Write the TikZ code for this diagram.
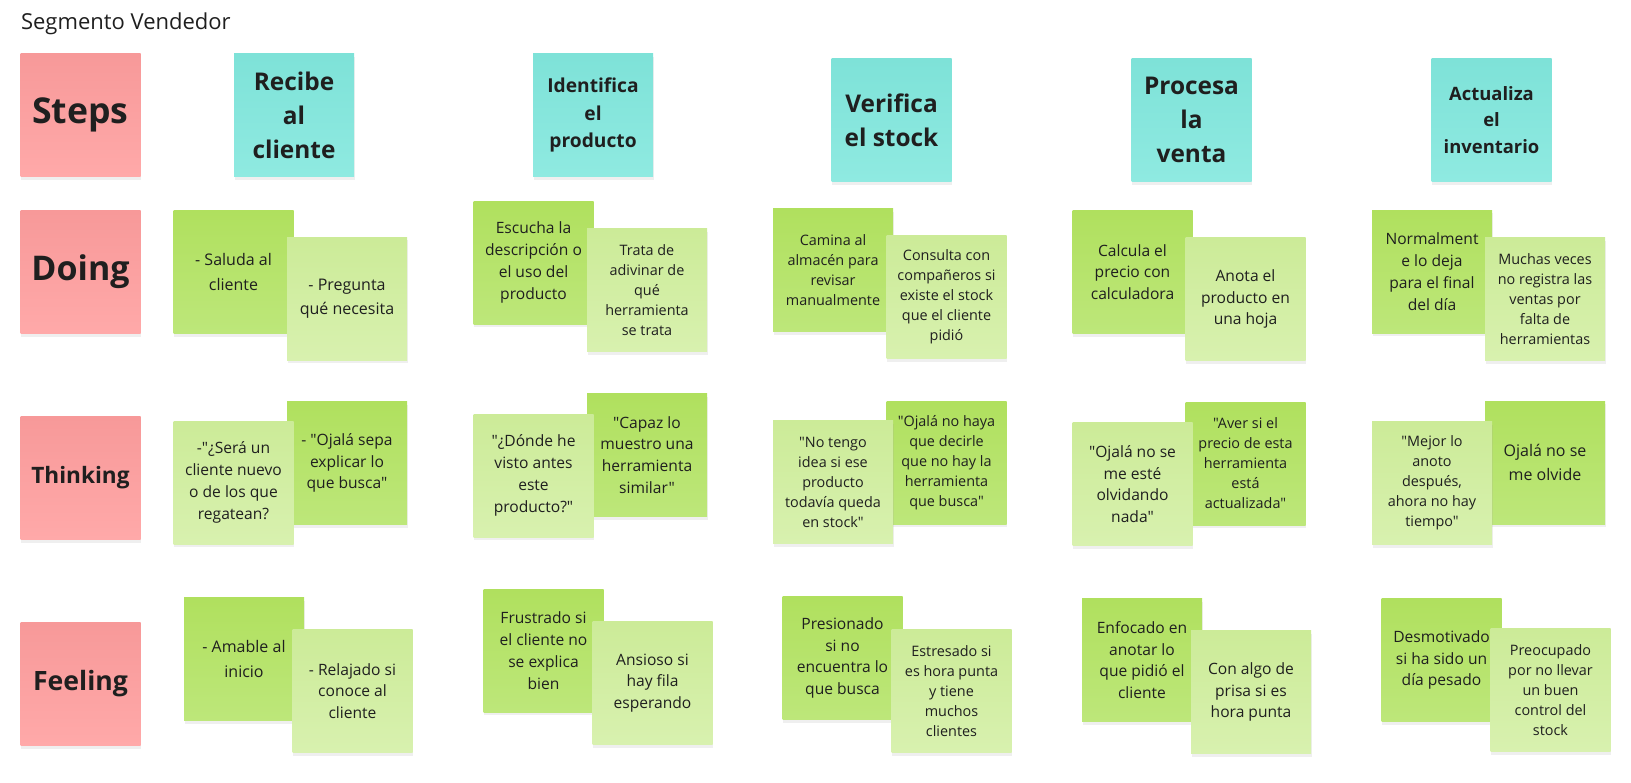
\documentclass[tikz,border=0pt]{standalone}
\usepackage{fontspec}
\setmainfont{Open Sans}[Ligatures=TeXOff]
\usepackage{tikz}
\usetikzlibrary{shadows}
\definecolor{pinkA}{HTML}{F79999}
\definecolor{pinkB}{HTML}{FFA9A9}
\definecolor{tealA}{HTML}{7EE2D8}
\definecolor{tealB}{HTML}{8FEAE1}
\definecolor{darkA}{HTML}{B0E05E}
\definecolor{darkB}{HTML}{BDE77A}
\definecolor{liteA}{HTML}{CCEB98}
\definecolor{liteB}{HTML}{D8F1AF}
\tikzstyle{ndnote} = [shape=rectangle, minimum width=60pt, minimum height=61.5pt, inner sep=1pt, align=center, text=black!88, drop shadow={shadow xshift=0.3pt, shadow yshift=-1.6pt, opacity=0.13}]
\tikzstyle{ndrow} = [ndnote, top color=pinkA, bottom color=pinkB]
\tikzstyle{ndstep} = [ndnote, top color=tealA, bottom color=tealB]
\tikzstyle{nddark} = [ndnote, top color=darkA, bottom color=darkB]
\tikzstyle{ndlite} = [ndnote, top color=liteA, bottom color=liteB]
\tikzstyle{hdl} = [font=\bfseries\fontsize{12.2}{17}\selectfont]
\tikzstyle{hds} = [font=\bfseries\fontsize{9.6}{13.6}\selectfont]
\tikzstyle{txs} = [font=\fontsize{7.2}{10}\selectfont]
\tikzstyle{txm} = [font=\fontsize{7.8}{10.9}\selectfont]
\tikzstyle{txl} = [font=\fontsize{8}{12.2}\selectfont]

\begin{document}
\begin{tikzpicture}[x=0.5pt, y=-0.5pt]
	\useasboundingbox (0,0) rectangle (1631,782);
	\node[anchor=base west, text=black!88, font=\fontsize{11}{13}\selectfont] (ttl) at (14,29) {Segmento Vendedor};
	\node[ndrow, font=\bfseries\fontsize{17.8}{20}\selectfont] (r1) at (80.5,115) {Steps};
	\node[ndrow, font=\bfseries\fontsize{17}{20}\selectfont] (r2) at (80.5,272) {Doing};
	\node[ndrow, font=\bfseries\fontsize{11.3}{14}\selectfont] (r3) at (80.5,478) {Thinking};
	\node[ndrow, font=\bfseries\fontsize{13.3}{16}\selectfont] (r4) at (80.5,684) {Feeling};
	\node[ndstep, hdl] (h1) at (294,115) {Recibe\\al\\cliente};
	\node[ndstep, hds] (h2) at (593,115) {Identifica\\el\\producto};
	\node[ndstep, hdl] (h3) at (891.5,120) {Verifica\\el stock};
	\node[ndstep, hdl] (h4) at (1191.5,120) {Procesa\\la\\venta};
	\node[ndstep, font=\bfseries\fontsize{9.2}{13.3}\selectfont] (h5) at (1491.5,120) {Actualiza\\el\\inventario};
	\node[nddark, txl] (d1) at (233.5,272) {- Saluda al\\cliente};
	\node[ndlite, txl] (d2) at (347,298.5) {- Pregunta\\qué necesita};
	\node[nddark, txm] (d3) at (533.5,262.5) {Escucha la\\descripción o\\el uso del\\producto};
	\node[ndlite, txs] (d4) at (647,290) {Trata de\\adivinar de\\qué\\herramienta\\se trata};
	\node[nddark, txs] (d5) at (833,270) {Camina al\\almacén para\\revisar\\manualmente};
	\node[ndlite, txs] (d6) at (946.5,297) {Consulta con\\compañeros si\\existe el stock\\que el cliente\\pidió};
	\node[nddark, txm] (d7) at (1132.5,272) {Calcula el\\precio con\\calculadora};
	\node[ndlite, txm] (d8) at (1245.5,299) {Anota el\\producto en\\una hoja};
	\node[nddark, txm] (d9) at (1432,271.5) {Normalment\\e lo deja\\para el final\\del día};
	\node[ndlite, txs] (d10) at (1545,299) {Muchas veces\\no registra las\\ventas por\\falta de\\herramientas};
	\node[nddark, txm] (t2) at (347,463) {- "Ojalá sepa\\explicar lo\\que busca"};
	\node[ndlite, txm] (t1) at (233.5,482.5) {-"¿Será un\\cliente nuevo\\o de los que\\regatean?};
	\node[nddark, txm] (t4) at (647,455) {"Capaz lo\\muestro una\\herramienta\\similar"};
	\node[ndlite, txm] (t3) at (533.5,475.5) {"¿Dónde he\\visto antes\\este\\producto?"};
	\node[nddark, txs] (t6) at (946.5,462.5) {"Ojalá no haya\\que decirle\\que no hay la\\herramienta\\que busca"};
	\node[ndlite, txs] (t5) at (833,482) {"No tengo\\idea si ese\\producto\\todavía queda\\en stock"};
	\node[nddark, txs] (t8) at (1245.5,463.5) {"Aver si el\\precio de esta\\herramienta\\está\\actualizada"};
	\node[ndlite, txm] (t7) at (1132.5,484) {"Ojalá no se\\me esté\\olvidando\\nada"};
	\node[nddark, txl] (t10) at (1545,462.5) {Ojalá no se\\me olvide};
	\node[ndlite, txs] (t9) at (1432,483) {"Mejor lo\\anoto\\después,\\ahora no hay\\tiempo"};
	\node[nddark, txl] (f1) at (244,659) {- Amable al\\inicio};
	\node[ndlite, txm] (f2) at (352.5,691) {- Relajado si\\conoce al\\cliente};
	\node[nddark, txm] (f3) at (543.5,650.5) {Frustrado si\\el cliente no\\se explica\\bien};
	\node[ndlite, txm] (f4) at (652.5,683) {Ansioso si\\hay fila\\esperando};
	\node[nddark, txm] (f5) at (842.5,658) {Presionado\\si no\\encuentra lo\\que busca};
	\node[ndlite, txs] (f6) at (951.5,691) {Estresado si\\es hora punta\\y tiene\\muchos\\clientes};
	\node[nddark, txm] (f7) at (1142,660) {Enfocado en\\anotar lo\\que pidió el\\cliente};
	\node[ndlite, txm] (f8) at (1251,692) {Con algo de\\prisa si es\\hora punta};
	\node[nddark, txm] (f9) at (1441.5,660) {Desmotivado\\si ha sido un\\día pesado};
	\node[ndlite, txs] (f10) at (1550.5,690) {Preocupado\\por no llevar\\un buen\\control del\\stock};
\end{tikzpicture}
\end{document}
